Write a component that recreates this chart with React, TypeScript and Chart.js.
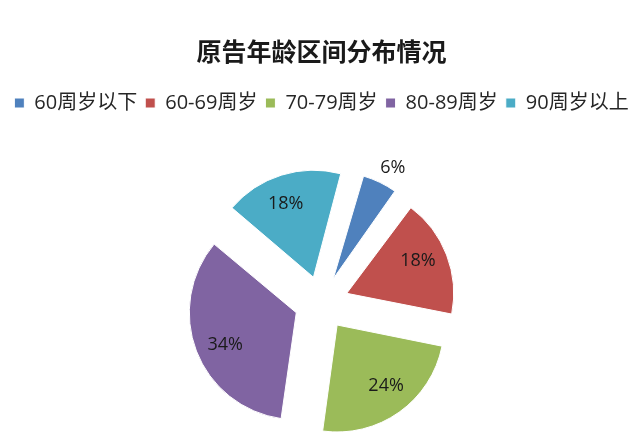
import { useEffect, useRef } from 'react';
import { Chart, ChartConfiguration, Plugin, registerables } from 'chart.js';

Chart.register(...registerables);

// chart data
const TITLE = '原告年龄区间分布情况';
const AGE_GROUPS = ['60周岁以下', '60-69周岁', '70-79周岁', '80-89周岁', '90周岁以上'];
const SHARES = [6, 18, 24, 34, 18];
const SLICE_COLORS = ['#4F81BD', '#C0504D', '#9BBB59', '#8064A2', '#4BACC6'];

const PIE_RADIUS = 107;
const EXPLODE = 27; // how far each slice is pulled out, px
const START_ANGLE = 15;
const FONT_FAMILY = "'Open Sans', 'Noto Sans CJK SC', sans-serif";

// push the pie down, away from the legend
const legendGap: Plugin<'pie'> = {
  id: 'legendGap',
  beforeInit(chart) {
    const legend = chart.legend as any;
    const fit = legend.fit;
    legend.fit = function () {
      fit.call(this);
      this.height += 41;
    };
  },
};

// Chart.js grows narrow exploded slices, keep every slice the same radius
const evenRadius: Plugin<'pie'> = {
  id: 'evenRadius',
  afterDatasetUpdate(_chart, args) {
    args.meta.data.forEach((el) => {
      const arc = el as any;
      const fix = 1 - Math.sin(Math.min(Math.PI, arc.circumference));
      arc.outerRadius = PIE_RADIUS - EXPLODE * fix;
    });
  },
};

const sliceLabels: Plugin<'pie'> = {
  id: 'sliceLabels',
  afterDatasetsDraw(chart) {
    const ctx = chart.ctx;
    const meta = chart.getDatasetMeta(0);
    const values = chart.data.datasets[0].data as number[];
    const total = values.reduce((a, b) => a + b, 0);
    const deg = Math.PI / 180;
    ctx.save();
    ctx.font = "18px 'Open Sans', sans-serif";
    ctx.fillStyle = '#1a1a1a';
    ctx.textAlign = 'center';
    ctx.textBaseline = 'middle';
    meta.data.forEach((el, i) => {
      const arc = el as any;
      const share = values[i] / total;
      const outside = share < 0.1; // small slices get their label outside
      const mid = (arc.startAngle + arc.endAngle) / 2 + (outside ? 2 : -2.5) * deg;
      const dist = outside ? EXPLODE + PIE_RADIUS + 19 : EXPLODE + PIE_RADIUS * 0.73;
      ctx.fillText(
        Math.round(share * 100) + '%',
        arc.x + Math.cos(mid) * dist,
        arc.y + Math.sin(mid) * dist
      );
    });
    ctx.restore();
  },
};

export default function App() {
  const canvasRef = useRef<HTMLCanvasElement>(null);
  const chartRef = useRef<Chart | null>(null);

  useEffect(() => {
    if (!canvasRef.current) return;
    if (chartRef.current) chartRef.current.destroy();

    const config: ChartConfiguration<'pie'> = {
      type: 'pie',
      data: {
        labels: AGE_GROUPS,
        datasets: [{
          data: SHARES,
          backgroundColor: SLICE_COLORS,
          borderColor: '#ffffff',
          borderWidth: 1,
          offset: EXPLODE * 4,
          hoverOffset: 0,
          clip: false as any,
        }],
      },
      options: {
        responsive: true,
        maintainAspectRatio: false,
        animation: false,
        events: [],
        rotation: START_ANGLE,
        radius: PIE_RADIUS,
        layout: { padding: 0 },
        plugins: {
          title: {
            display: true,
            text: TITLE,
            color: '#1a1a1a',
            font: { family: FONT_FAMILY, size: 25, weight: 'bold' },
            padding: { top: 39, bottom: 16 },
          },
          legend: {
            position: 'top',
            labels: {
              boxWidth: 10,
              boxHeight: 10,
              padding: 8,
              color: '#262626',
              font: { family: FONT_FAMILY, size: 20 },
            },
          },
          tooltip: { enabled: false },
        },
      },
      plugins: [legendGap, evenRadius, sliceLabels],
    };

    chartRef.current = new Chart(canvasRef.current, config);

    return () => {
      if (chartRef.current) {
        chartRef.current.destroy();
        chartRef.current = null;
      }
    };
  }, []);

  return (
    <div style={{ position: 'absolute', left: 0, top: 0, width: 643, height: 442, background: '#ffffff' }}>
      <canvas ref={canvasRef}></canvas>
    </div>
  );
}
